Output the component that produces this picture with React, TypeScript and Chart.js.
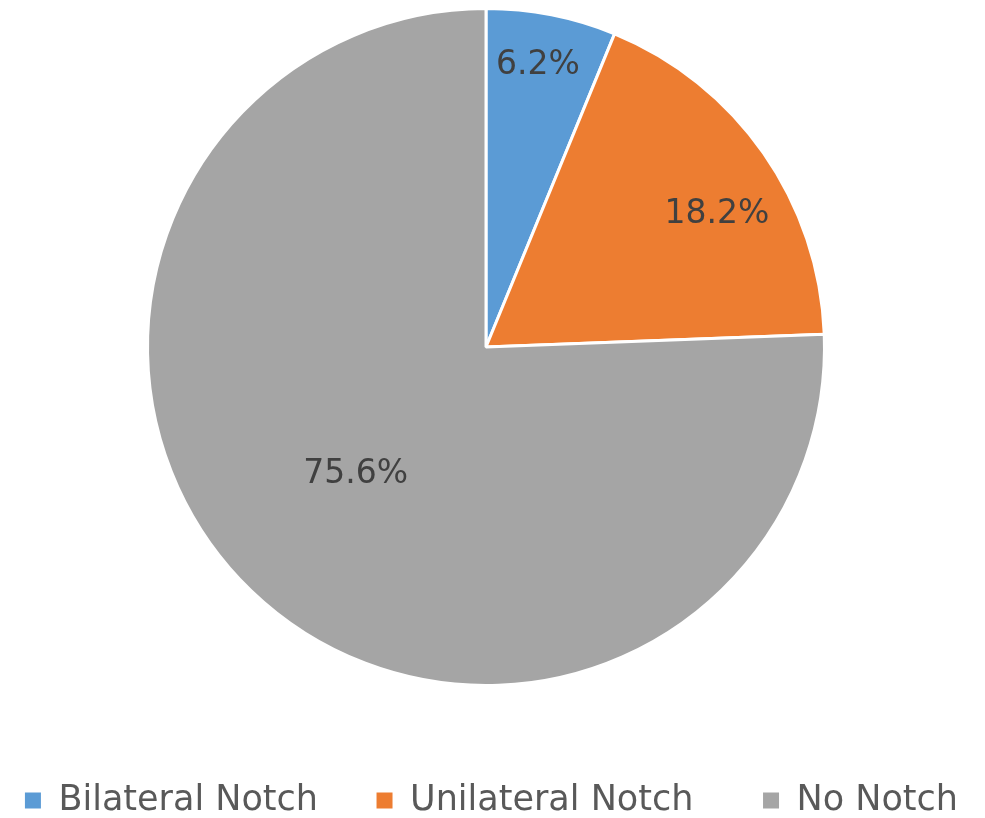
import React, { useEffect, useRef } from "react";
import { Chart, registerables } from "chart.js";

Chart.register(...registerables);

const categories = ["Bilateral Notch", "Unilateral Notch", "No Notch"];
const values = [6.2, 18.2, 75.6];
const valueLabels = ["6.2%", "18.2%", "75.6%"];
const colors = ["#5B9BD5", "#ED7D31", "#A5A5A5"];
const labelRadiusFrac = [0.85, 0.787, 0.53];
const labelAngleShiftDeg = [-0.8, 4.6, 2.4];
const legendTrailingSpaces = [4, 5, 0];

const FONT = "'DejaVu Sans', sans-serif";

const labelPlugin = {
  id: "sliceLabels",
  afterDatasetsDraw(chart: any) {
    const meta = chart.getDatasetMeta(0);
    const ctx = chart.ctx;
    ctx.save();
    ctx.font = `33px ${FONT}`;
    ctx.fillStyle = "#404040";
    ctx.textAlign = "center";
    ctx.textBaseline = "middle";
    meta.data.forEach((arc: any, i: number) => {
      const { x, y, startAngle, endAngle, outerRadius } = arc.getProps(
        ["x", "y", "startAngle", "endAngle", "outerRadius"],
        true
      );
      const mid = (startAngle + endAngle) / 2 + (labelAngleShiftDeg[i] * Math.PI) / 180;
      const r = (outerRadius + 1.5) * labelRadiusFrac[i];
      ctx.fillText(valueLabels[i], x + Math.cos(mid) * r, y + Math.sin(mid) * r + 3);
    });
    ctx.restore();
  },
};

export default function App() {
  const ref = useRef<HTMLCanvasElement | null>(null);
  useEffect(() => {
    if (!ref.current) return;
    const chart = new Chart(ref.current, {
      type: "pie",
      data: {
        labels: categories,
        datasets: [
          {
            data: values,
            backgroundColor: colors,
            borderColor: "#ffffff",
            borderWidth: 3,
          },
        ],
      },
      options: {
        animation: false,
        responsive: true,
        maintainAspectRatio: false,
        layout: { padding: { top: 7, right: 13, left: 0, bottom: -10 } },
        plugins: {
          tooltip: { enabled: false },
          legend: {
            position: "bottom",
            align: "end",
            title: { display: true, text: " ", font: { size: 10 }, padding: 35 },
            labels: {
              boxWidth: 16,
              boxHeight: 16,
              padding: 14,
              color: "#595959",
              font: { size: 35, family: FONT },
              generateLabels(chart: any) {
                const items = Chart.overrides.pie.plugins.legend.labels.generateLabels(chart);
                return items.map((it: any, i: number) => ({
                  ...it,
                  text: it.text + " ".repeat(legendTrailingSpaces[i] || 0),
                  strokeStyle: it.fillStyle,
                  lineWidth: 0,
                }));
              },
            },
          },
        },
      },
      plugins: [labelPlugin],
    });
    return () => chart.destroy();
  }, []);
  return (
    <div style={{ position: "fixed", left: 0, top: 0, width: 985, height: 818, background: "#fff" }}>
      <canvas ref={ref} />
    </div>
  );
}
